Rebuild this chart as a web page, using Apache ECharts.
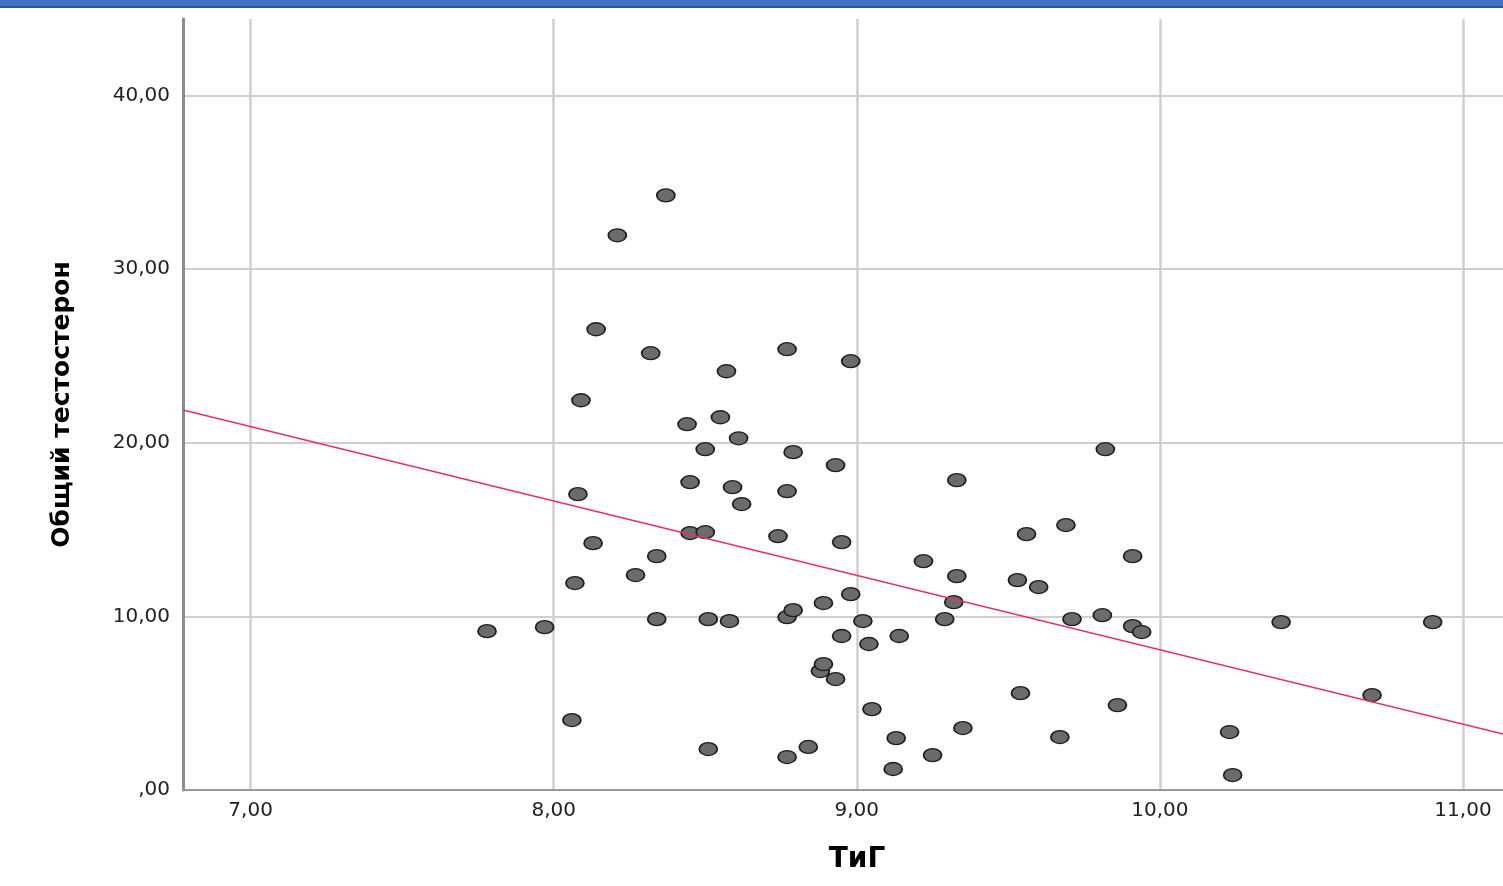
<!DOCTYPE html>
<html>
<head>
<meta charset="utf-8">
<title>ТиГ и общий тестостерон</title>
<script src="https://cdn.jsdelivr.net/npm/echarts@6/dist/echarts.min.js"></script>
<style>
  html, body { margin: 0; padding: 0; background: #fff; }
  #chart { width: 1503px; height: 886px; }
</style>
</head>
<body>
<div id="chart"></div>
<script>
  // ТиГ (ось X)
  const tig = [
    7.78, 7.97, 8.06, 8.07, 8.08, 8.09, 8.13, 8.14, 8.21, 8.27,
    8.32, 8.34, 8.34, 8.37, 8.44, 8.45, 8.45, 8.50, 8.50, 8.51,
    8.51, 8.55, 8.57, 8.58, 8.59, 8.61, 8.62, 8.74, 8.77, 8.77,
    8.77, 8.77, 8.79, 8.79, 8.84, 8.88, 8.89, 8.89, 8.93, 8.93,
    8.95, 8.95, 8.98, 8.98, 9.02, 9.04, 9.05, 9.12, 9.13, 9.14,
    9.22, 9.25, 9.29, 9.32, 9.33, 9.33, 9.35, 9.53, 9.54, 9.56,
    9.60, 9.67, 9.69, 9.71, 9.81, 9.82, 9.86, 9.91, 9.91, 9.94,
    10.23, 10.24, 10.40, 10.70, 10.90
  ];
  // Общий тестостерон (ось Y)
  const testosterone = [
    9.15, 9.38, 4.03, 11.92, 17.04, 22.45, 14.22, 26.54, 31.95, 12.38,
    25.16, 13.47, 9.84, 34.25, 21.07, 17.73, 14.80, 14.85, 19.63, 9.84,
    2.36, 21.47, 24.12, 9.73, 17.44, 20.26, 16.47, 14.62, 1.90, 25.39,
    17.21, 9.96, 10.36, 19.46, 2.48, 6.85, 7.25, 10.77, 6.39, 18.71,
    8.87, 14.28, 24.70, 11.28, 9.73, 8.41, 4.66, 1.21, 2.99, 8.87,
    13.18, 2.01, 9.84, 10.82, 17.85, 12.32, 3.57, 12.09, 5.58, 14.74,
    11.69, 3.05, 15.26, 9.84, 10.07, 19.63, 4.89, 13.47, 9.44, 9.10,
    3.34, 0.86, 9.67, 5.47, 9.67
  ];
  // линия регрессии: концы на краях области построения
  const fitX = [6.777, 11.132];
  const fitY = [21.89, 3.23];
  // границы осей
  const xRange = [6.777, 11.132];
  const yRange = [0, 44.41];

  // 40,00 / ,00 — как в SPSS
  function fmt(v) {
    let s = v.toFixed(2).replace('.', ',');
    if (s.indexOf('0,') === 0) s = s.slice(1);
    return s;
  }

  const myEcharts = echarts.init(document.getElementById('chart'));
  let option = {
    animation: false,
    backgroundColor: '#fff',
    // синяя полоса сверху
    graphic: [
      { type: 'rect', left: 0, top: 0, shape: { width: 1503, height: 6 }, style: { fill: '#4472c4' } },
      { type: 'rect', left: 0, top: 6, shape: { width: 1503, height: 2 }, style: { fill: '#2f5597' } }
    ],
    grid: { left: 183, right: 0, top: 19, bottom: 96 },
    xAxis: {
      type: 'value',
      min: xRange[0],
      max: xRange[1],
      minInterval: 1,
      maxInterval: 1,
      name: 'ТиГ',
      nameLocation: 'middle',
      nameGap: 56,
      nameTextStyle: {
        fontFamily: 'DejaVu Sans', fontWeight: 'bold', fontSize: 28, color: '#000',
        padding: [0, 0, 0, 28]
      },
      axisLine: { show: true, onZero: false, lineStyle: { color: '#999', width: 2 } },
      axisTick: { show: false },
      axisLabel: {
        showMinLabel: false,
        showMaxLabel: false,
        margin: 11,
        fontFamily: 'DejaVu Sans',
        fontSize: 20,
        color: '#222',
        formatter: fmt
      },
      splitLine: {
        show: true,
        showMinLine: false,
        showMaxLine: false,
        lineStyle: { color: '#cfcfcf', width: 2.5 }
      }
    },
    yAxis: {
      type: 'value',
      min: yRange[0],
      max: yRange[1],
      interval: 10,
      name: 'Общий тестостерон',
      nameLocation: 'middle',
      nameGap: 108,
      nameTextStyle: { fontFamily: 'DejaVu Sans', fontWeight: 'bold', fontSize: 25, color: '#000' },
      axisLine: { show: true, onZero: false, lineStyle: { color: '#8c8c8c', width: 3 } },
      axisTick: { show: false },
      axisLabel: {
        showMaxLabel: false,
        margin: 13,
        fontFamily: 'DejaVu Sans',
        fontSize: 20,
        color: '#222',
        padding: [9, 0, 0, 0],
        formatter: fmt
      },
      splitLine: {
        show: true,
        showMaxLine: false,
        lineStyle: { color: '#cfcfcf', width: 2 }
      }
    },
    series: [
      {
        type: 'scatter',
        data: tig.map((x, i) => [x, testosterone[i]]),
        // эллипс — картинка растянута по горизонтали
        symbol: 'path://M0 50A50 50 0 1 0 100 50A50 50 0 1 0 0 50Z',
        symbolSize: [18, 13],
        itemStyle: { color: '#6b6b6b', borderColor: '#1e1e1e', borderWidth: 1.5, opacity: 1 },
        z: 3
      },
      {
        type: 'line',
        data: fitX.map((x, i) => [x, fitY[i]]),
        symbol: 'none',
        silent: true,
        lineStyle: { color: '#e8305a', width: 1.5 },
        z: 4
      }
    ]
  };
  myEcharts.setOption(option);
</script>
</body>
</html>
